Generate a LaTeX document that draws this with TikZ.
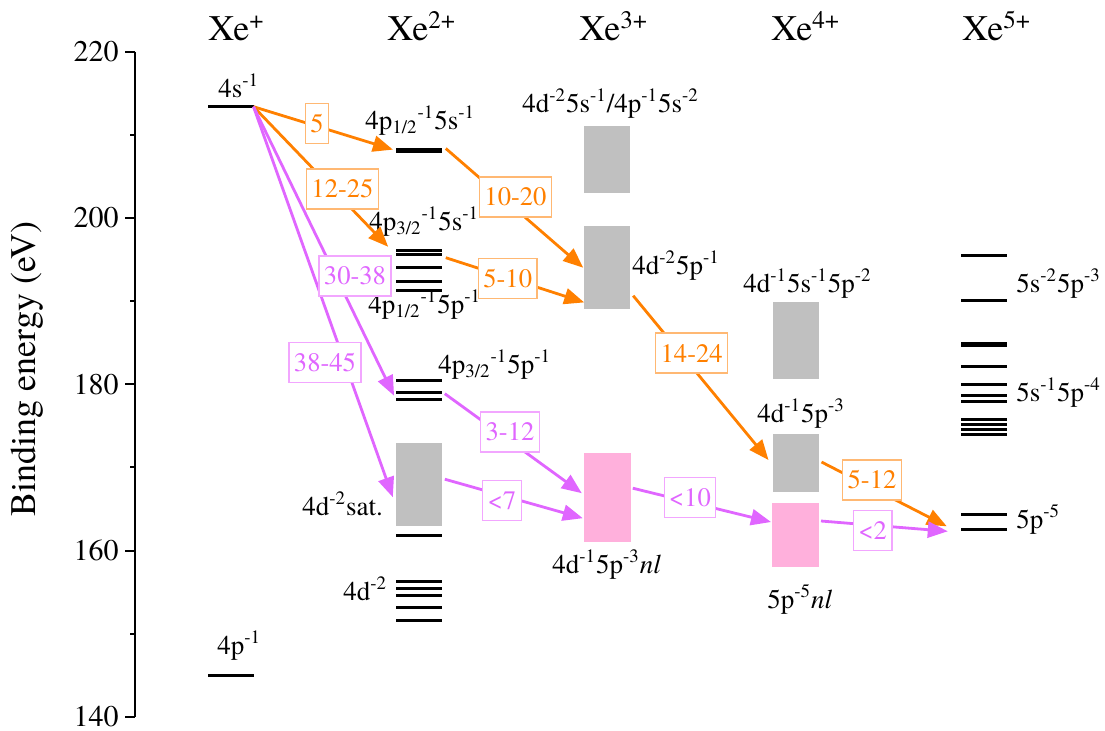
\documentclass[tikz,border=0pt]{standalone}
\usepackage{fontspec}
\setmainfont{texgyretermes}[Extension=.otf, UprightFont=*-regular, ItalicFont=*-italic, BoldFont=*-bold]
\definecolor{ArrOrange}{HTML}{FF8000}
\definecolor{ArrViolet}{HTML}{E066FF}
\definecolor{EdgeOrange}{HTML}{FFB873}
\definecolor{EdgeViolet}{HTML}{F2A6FF}
\definecolor{BandGray}{HTML}{C0C0C0}
\definecolor{BandPink}{HTML}{FFB0DC}
\usetikzlibrary{arrows.meta, calc}
\tikzset{
  lvl/.style={fill=black, inner sep=0pt, outer sep=0pt, minimum width=23pt, minimum height=1.5pt},
  thicklvl/.style={lvl, minimum height=2.5pt},
  band/.style={fill=BandGray, inner sep=0pt, outer sep=0pt, minimum width=23pt},
  pinkband/.style={band, fill=BandPink, minimum width=23.5pt},
  lab/.style={anchor=base west, inner sep=0pt, font=\fontsize{13.5}{15}\selectfont},
  orangearrow/.style={-{Triangle[length=10pt, width=8pt]}, line width=1.4pt, draw=ArrOrange},
  violetarrow/.style={-{Triangle[length=10pt, width=8pt]}, line width=1.4pt, draw=ArrViolet},
  orangetag/.style={draw=EdgeOrange, fill=white, text=ArrOrange, line width=0.6pt, minimum height=20pt, inner xsep=2.5pt, font=\fontsize{13.3}{15}\selectfont},
  violettag/.style={orangetag, draw=EdgeViolet, text=ArrViolet}
}
\newcommand{\sps}[1]{\textsuperscript{#1}}
\newcommand{\sbs}[1]{\textsubscript{#1}}

\begin{document}
\begin{tikzpicture}[x=0.5pt, y=-0.5pt,
  head/.style={anchor=base west, inner sep=0pt, font=\fontsize{18}{20}\selectfont},
  ticklab/.style={anchor=east, inner sep=0pt, font=\fontsize{15}{17}\selectfont}
]
\useasboundingbox (0,0) rectangle (1105,730);

% energy axis
\draw[line width=1pt] (135,51.7) -- (135,716.7);
\foreach \e in {140,160,...,220} {
  \pgfmathsetmacro\yy{51.7+(220-\e)*8.315}
  \draw[line width=1pt] (125,\yy) -- (135,\yy);
  \node[ticklab] (tick\e) at (119,\yy) {\e};
}
\foreach \e in {150,170,...,210} {
  \pgfmathsetmacro\yy{51.7+(220-\e)*8.315}
  \draw[line width=1pt] (130,\yy) -- (135,\yy);
}
\node[rotate=90, font=\fontsize{18}{20}\selectfont] (ytitle) at (27,369) {Binding energy (eV)};

% charge states
\node[head] (xe1) at (208,40.7) {Xe\sps{+}};
\node[head] (xe2) at (387,40.7) {Xe\sps{2+}};
\node[head] (xe3) at (579,40.7) {Xe\sps{3+}};
\node[head] (xe4) at (771,40.7) {Xe\sps{4+}};
\node[head] (xe5) at (962,40.7) {Xe\sps{5+}};

% Xe+
\node[lvl] (s4) at (230.5,106.7) {};
\node[lvl] (p4) at (230.5,675) {};
\node[lab] at (218,97) {4s\sps{-1}};
\node[lab] at (217,654) {4p\sps{-1}};

% Xe2+
\node[thicklvl] (a1) at (418.8,150.5) {};
\foreach \y [count=\i] in {250.5,254.7,267.7,281.7,290.5}
  \node[lvl] (b\i) at (418.8,\y) {};
\foreach \y [count=\i] in {380.7,392.7,399.3}
  \node[lvl] (c\i) at (418.8,\y) {};
\node[band, minimum height=41.5pt] (sat) at (418.8,484.2) {};
\foreach \y [count=\i] in {535.3,581.3,588.3,595,607,620.7}
  \node[lvl] (d\i) at (418.8,\y) {};
\node[lab] at (365,129) {4p\sbs{1/2}\sps{-1}5s\sps{-1}};
\node[lab] at (369,230) {4p\sbs{3/2}\sps{-1}5s\sps{-1}};
\node[lab] at (368,313) {4p\sbs{1/2}\sps{-1}5p\sps{-1}};
\node[lab] at (438,373) {4p\sbs{3/2}\sps{-1}5p\sps{-1}};
\node[lab] at (302,515) {4d\sps{-2}sat.};
\node[lab] at (343,600) {4d\sps{-2}};

% Xe3+
\node[band, minimum height=33.3pt] (g3a) at (607.2,159.3) {};
\node[band, minimum height=41.7pt] (g3b) at (607.2,267.7) {};
\node[pinkband, minimum height=44.5pt] (pk3) at (607.3,497.2) {};
\node[lab] at (522,112) {4d\sps{-2}5s\sps{-1}/4p\sps{-1}5s\sps{-2}};
\node[lab] at (632,274) {4d\sps{-2}5p\sps{-1}};
\node[lab] at (552,573) {4d\sps{-1}5p\sps{-3}\textit{nl}};

% Xe4+
\node[band, minimum height=38.5pt] (g4a) at (795.5,340.8) {};
\node[band, minimum height=29.3pt] (g4b) at (795.5,463) {};
\node[pinkband, minimum height=31.7pt] (pk4) at (795.5,535) {};
\node[lab] at (743,292) {4d\sps{-1}5s\sps{-1}5p\sps{-2}};
\node[lab] at (757,422) {4d\sps{-1}5p\sps{-3}};
\node[lab] at (767,608) {5p\sps{-5}\textit{nl}};

% Xe5+
\foreach \y [count=\i] in {255,300,366.7,384,395.5,401.5,419.5,424.5,429.5,434.5}
  \node[lvl] (e\i) at (983.8,\y) {};
\node[thicklvl] (e0) at (983.8,344) {};
\node[lvl] (f1) at (983.8,514) {};
\node[lvl] (f2) at (983.8,529.3) {};
\node[lab] at (1016,292) {5s\sps{-2}5p\sps{-3}};
\node[lab] at (1016,401) {5s\sps{-1}5p\sps{-4}};
\node[lab] at (1016,528) {5p\sps{-5}};

% decay paths
\draw[orangearrow, shorten >=1.5pt] (s4.east) -- (a1.west);
\draw[orangearrow, shorten >=5.5pt] (s4.east) -- (b2.west);
\draw[orangearrow] ($(a1.east)+(4,-2)$) -- ($(g3b.west)+(-1,0)$);
\draw[orangearrow] ($(b2.east)+(4,3)$) -- ($(g3b.south west)+(0,-7)$);
\draw[orangearrow] ($(g3b.east)+(3,28)$) -- ($(g4b.west)+(-4,-3)$);
\draw[orangearrow] ($(g4b.east)+(3,-1)$) -- ($(f2.west)+(-14,-3)$);

\draw[violetarrow, shorten >=2pt] (s4.east) -- (c3.west);
\draw[violetarrow] (s4.east) -- ($(sat.west)+(-3,13)$);
\draw[violetarrow] ($(c2.east)+(3,1)$) -- ($(pk3.west)+(-2,-4)$);
\draw[violetarrow] ($(sat.east)+(3,-5)$) -- ($(pk3.west)+(-1,21)$);
\draw[violetarrow] ($(pk3.east)+(2,-9)$) -- ($(pk4.west)+(-1,-13)$);
\draw[violetarrow] ($(pk4.east)+(2,-14)$) -- ($(f2.west)+(-13,2)$);

% time tags
\node[orangetag] (t1) at (317,123.5) {5};
\node[orangetag] (t2) at (342.5,189) {12-25};
\node[orangetag] (t3) at (515.5,197) {10-20};
\node[orangetag] (t4) at (507.7,278.5) {5-10};
\node[orangetag] (t5) at (691.7,353) {14-24};
\node[orangetag] (t6) at (872,480) {5-12};
\node[violettag] (u1) at (355,276) {30-38};
\node[violettag] (u2) at (325,362.5) {38-45};
\node[violettag] (u3) at (510,432) {3-12};
\node[violettag] (u4) at (502,500.5) {<7};
\node[violettag] (u5) at (690,497.3) {<10};
\node[violettag] (u6) at (872.8,530.7) {<2};
\end{tikzpicture}
\end{document}
